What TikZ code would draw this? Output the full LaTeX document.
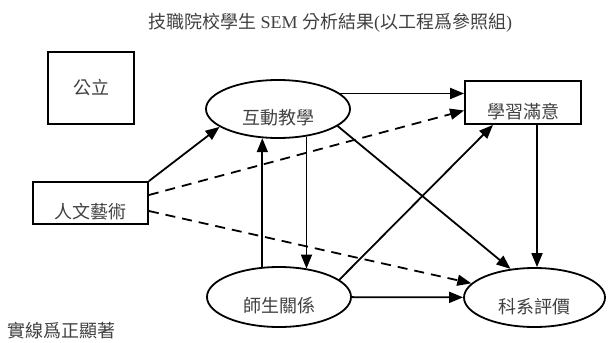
\documentclass[tikz,border=0pt]{standalone}
\usepackage{fontspec}
\setmainfont{Liberation Serif}
\newfontfamily\cjk{Noto Sans CJK TC}
\usetikzlibrary{shapes.geometric,arrows.meta}

\begin{document}
\begin{tikzpicture}[x=1pt, y=-1pt, line width=1.8pt, >={Triangle[length=14pt,width=11pt]},
  txt/.style={font=\cjk\fontsize{18}{20}\selectfont, text=black!75},
  var/.style={txt, draw, inner sep=0pt, text height=31pt, text depth=0pt},
  oval/.style={var, ellipse, minimum width=144pt, minimum height=58pt},
  dash line/.style={dash pattern=on 10pt off 7pt}]
\useasboundingbox (0,0) rectangle (609,342);

\node[text=black!75, font=\fontsize{18}{20}\selectfont] (T) at (330,23)
  {{\cjk 技職院校學生} SEM {\cjk 分析結果}({\cjk 以工程爲參照組})};

% variables
\node[txt, draw, minimum width=86pt, minimum height=72pt] (Pub) at (91,88) {公立};
\node[var, rectangle, minimum width=115pt, minimum height=42pt] (Art) at (90.5,203) {人文藝術};
\node[var, rectangle, minimum width=116pt, minimum height=43pt] (Sat) at (523,102.5) {學習滿意};
\node[oval] (Inter) at (278,109) {互動教學};
\node[oval, minimum height=60pt] (Rel) at (279,297) {師生關係};
\node[oval, minimum width=141pt, minimum height=59pt] (Eval) at (534.5,297.5) {科系評價};

\node[txt, anchor=west, inner sep=0pt] (Note) at (7,331) {實線爲正顯著};

% arrows
\draw[->] (Art.north east) -- (Inter.197);
\draw[->] (Inter.14) -- (Inter.14 -| Sat.west);
\draw[->] (Inter.344) -- (Eval.130);
\draw[->] (Inter.316) -- (Inter.316 |- Rel.45);
\draw[->] (Rel.119) -- (Rel.119 |- Inter.242);
\draw[->] (Rel.16) -- ([xshift=-30pt]Sat.south);
\draw[->] (Rel) -- (Eval);
\draw[->] ([xshift=14pt]Sat.south) -- ([xshift=14pt]Sat.south |- Eval.north);

% dashed: not significant
\draw[->, dash line] ([yshift=8pt]Art.east) -- ([yshift=-8pt]Sat.west);
\draw[->, dash line] ([yshift=-8pt]Art.east) -- (Eval);

\end{tikzpicture}
\end{document}
